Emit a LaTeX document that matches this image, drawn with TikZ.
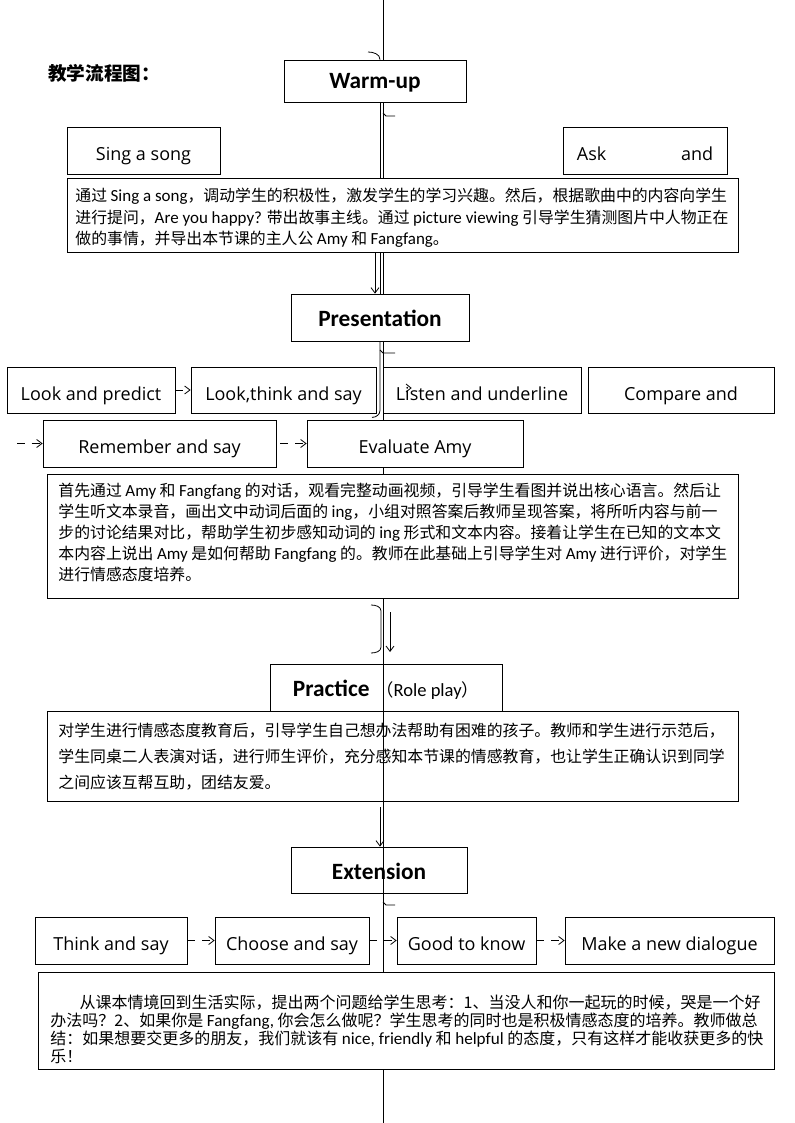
\documentclass[tikz,border=0pt]{standalone}
\usepackage{fontspec}
\setmainfont{Noto Sans CJK SC}
\newfontfamily\en{Carlito}[Scale=1.07]
\newfontfamily\headfont{Carlito}
\newfontfamily\comic{Open Sans}
\usetikzlibrary{arrows.meta}

\begin{document}
\begin{tikzpicture}[x=0.75pt,y=-0.75pt,line width=0.6pt]
        \tikzstyle{every node}=[inner sep=0pt];
        \tikzstyle{head}=[draw,fill=white,minimum height=35.25pt,text height=14pt,text depth=0pt,font=\headfont\bfseries\fontsize{17.5}{20}\selectfont];
        \tikzstyle{stepbox}=[draw,minimum height=35.25pt,text height=15pt,text depth=0pt,font=\comic\fontsize{13.5}{15}\selectfont];
        \tikzstyle{para}=[draw];
        \tikzstyle{body}=[anchor=north west,align=left,font=\fontsize{11.9}{16}\selectfont];
        \tikzstyle{go}=[-{Straight Barb[length=4pt,width=6pt]}];
        \tikzstyle{dashgo}=[go,dash pattern=on 6pt off 5pt];
        \useasboundingbox (0,0) rectangle (794,1123);
        % the long line down the page
        \coordinate (spinetop) at (383,0);
        \coordinate (spinebot) at (383,1123);
        \coordinate (spinetwo) at (380,0);
        \coordinate (railA) at (375,0);
        \draw (spinetop)--(spinebot);
        \node (title) at (104,73) {\bfseries\fontsize{14}{16}\selectfont 教学流程图：};
        % boxes that hide the line
        \node[head,minimum width=136.5pt,minimum height=31.5pt,text height=12pt] (warm) at (375,81) {Warm-up};
        \node[head,minimum width=133.5pt] (pres) at (380,317.5) {Presentation};
        \node[stepbox,fill=white,minimum width=162pt] (eva) at (415,443.5) {Evaluate Amy};
        \draw (warm.south -| spinetwo)--(pres.north -| spinetwo);
        \draw (pres.south -| spinetwo)--++(0,69) to[out=-90,in=0] ++(-8,7);
        \node[para,fill=white,minimum width=503.25pt,minimum height=55.5pt] (txt1) at (402.5,215) {};
        \node[para,fill=white,minimum width=518.25pt,minimum height=93pt] (txt2) at (392.5,536) {};
        \node[para,fill=white,minimum width=552pt,minimum height=72.75pt] (txt4) at (406,1020.5) {};
        \node[para,minimum width=518.25pt,minimum height=67.5pt] (txt3) at (392.5,756) {};
        % steps
        \node[stepbox,minimum width=114.75pt] (sing) at (143.5,150.5) {Sing a song};
        \node[stepbox,minimum width=123pt] (ask) at (645,150.5) {Ask\hspace{56pt}and};
        \node[stepbox,minimum width=126pt,minimum height=34.5pt] (lap) at (91,390) {Look and predict};
        \node[stepbox,minimum width=138.75pt,minimum height=34.5pt] (lts) at (283.5,390) {Look,think and say};
        \node[stepbox,minimum width=148.5pt,minimum height=34.5pt] (lau) at (482,390) {Listen and underline};
        \node[stepbox,minimum width=139.5pt,minimum height=34.5pt] (cmp) at (681,390) {Compare and};
        \node[stepbox,minimum width=174.75pt] (rem) at (159.5,443.5) {Remember and say};
        \node[draw,minimum width=174pt,minimum height=35.25pt,text height=14pt,text depth=0pt] (prac) at (386,687.5) {{\headfont\bfseries\fontsize{17.5}{20}\selectfont Practice}\hspace{5pt}{\fontsize{13}{15}\selectfont （{\en Role play}）}};
        \node[head,fill=none,minimum width=132pt,minimum height=34.5pt] (ext) at (379,870) {Extension};
        \node[stepbox,minimum width=114pt] (tas) at (111,940.5) {Think and say};
        \node[stepbox,minimum width=115.5pt] (cas) at (292,940.5) {Choose and say};
        \node[stepbox,minimum width=104.25pt] (gtk) at (466.5,940.5) {Good to know};
        \node[stepbox,minimum width=156.75pt] (mnd) at (669.5,940.5) {Make a new dialogue};
        % texts in the frames
        \node[body] (say1) at (75,188) {通过 {\en Sing a song}，调动学生的积极性，激发学生的学习兴趣。然后，根据歌曲中的内容向学生\\
        进行提问，{\en Are you happy?} 带出故事主线。通过 {\en picture viewing} 引导学生猜测图片中人物正在\\
        做的事情，并导出本节课的主人公 {\en Amy} 和 {\en Fangfang}。};
        \node[body,font=\fontsize{11.9}{15.75}\selectfont] (say2) at (58,483) {首先通过 {\en Amy} 和 {\en Fangfang} 的对话，观看完整动画视频，引导学生看图并说出核心语言。然后让\\
        学生听文本录音，画出文中动词后面的 {\en ing}，小组对照答案后教师呈现答案，将所听内容与前一\\
        步的讨论结果对比，帮助学生初步感知动词的 {\en ing} 形式和文本内容。接着让学生在已知的文本文\\
        本内容上说出 {\en Amy} 是如何帮助 {\en Fangfang} 的。教师在此基础上引导学生对 {\en Amy} 进行评价，对学生\\
        进行情感态度培养。};
        \node[body,font=\fontsize{11.9}{19.5}\selectfont] (say3) at (58,723) {对学生进行情感态度教育后，引导学生自己想办法帮助有困难的孩子。教师和学生进行示范后，\\
        学生同桌二人表演对话，进行师生评价，充分感知本节课的情感教育，也让学生正确认识到同学\\
        之间应该互帮互助，团结友爱。};
        \node[body,font=\fontsize{12}{13.5}\selectfont] (say4) at (50,995) {\hspace*{22pt}从课本情境回到生活实际，提出两个问题给学生思考：1、当没人和你一起玩的时候，哭是一个好\\
        办法吗？2、如果你是 {\en Fangfang,} 你会怎么做呢？学生思考的同时也是积极情感态度的培养。教师做总\\
        结：如果想要交更多的朋友，我们就该有 {\en nice, friendly} 和 {\en helpful} 的态度，只有这样才能收获更多的快\\
        乐！};
        % arrows
        \draw[go] (txt1.south -| railA)--(pres.north -| railA);
        \draw[dashgo] (lap.east)--(lts.west);
        \coordinate (remin) at (17,443.5);
        \draw[dashgo] (remin)--(rem.west);
        \draw[dashgo] ([xshift=3pt]rem.east)--(eva.west);
        \coordinate (brkA) at (371,605);
        \coordinate (brkB) at (371,653);
        \draw (brkA) to[out=0,in=90] ++(10,6)--++(0,36) to[out=-90,in=0] (brkB);
        \coordinate (dropA) at (390,612);
        \coordinate (dropB) at (390,652);
        \draw[go] (dropA)--(dropB);
        \draw[go] ([yshift=-4.5pt]txt3.south -| spinetwo)--(ext.north -| spinetwo);
        \draw[dashgo] (tas.east)--(cas.west);
        \draw[dashgo] (cas.east)--(gtk.west);
        \draw[dashgo] (gtk.east)--(mnd.west);
        % small marks on the line
        \coordinate (hookA) at (368,52);
        \draw (hookA) to[out=0,in=90] (warm.north -| spinetwo);
        \coordinate (tickA) at (383,113);
        \draw (tickA)--++(3,3)--++(9,0);
        \coordinate (tickB) at (380,350);
        \draw (tickB)--++(3,3)--++(12,0);
        \coordinate (tickC) at (383,902);
        \draw (tickC)--++(3,3)--++(9,0);
        \coordinate (strayA) at (406,384);
        \draw (strayA)--++(5,4)--++(-5,4);
\end{tikzpicture}
\end{document}
